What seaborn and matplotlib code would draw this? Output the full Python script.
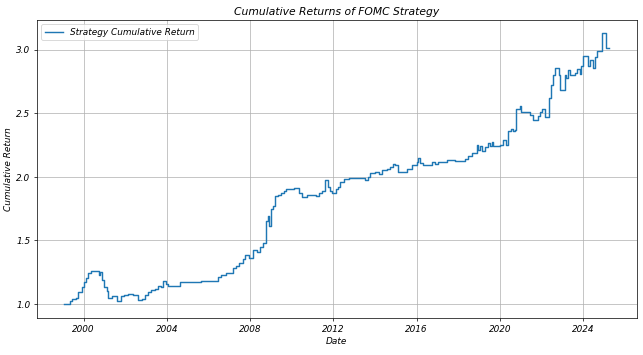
import numpy as np
import pandas as pd
import matplotlib
matplotlib.use("Agg")
import matplotlib.pyplot as plt
import seaborn as sns

# fechas (años decimales) y retorno acumulado
years = [
    1999.05, 1999.22, 1999.32, 1999.43, 1999.63, 1999.75, 1999.90, 2000.02,
    2000.11, 2000.22, 2000.33, 2000.49, 2000.72, 2000.80, 2000.89, 2000.99,
    2001.10, 2001.15, 2001.34, 2001.58, 2001.77, 2001.93, 2002.14, 2002.38,
    2002.62, 2002.82, 2002.93, 2003.10, 2003.25, 2003.41, 2003.57, 2003.70,
    2003.81, 2003.94, 2004.05, 2004.29, 2004.61, 2005.01, 2005.41, 2005.65,
    2006.44, 2006.60, 2006.84, 2007.16, 2007.32, 2007.48, 2007.64, 2007.77,
    2007.93, 2008.15, 2008.31, 2008.47, 2008.60, 2008.76, 2008.84, 2008.92,
    2009.00, 2009.11, 2009.20, 2009.32, 2009.47, 2009.63, 2009.71, 2010.11,
    2010.35, 2010.51, 2010.75, 2011.15, 2011.31, 2011.47, 2011.59, 2011.74,
    2011.83, 2011.95, 2012.11, 2012.22, 2012.31, 2012.50, 2012.74, 2012.98,
    2013.30, 2013.54, 2013.65, 2013.78, 2014.02, 2014.18, 2014.34, 2014.58,
    2014.74, 2014.87, 2014.98, 2015.09, 2015.30, 2015.54, 2015.78, 2016.01,
    2016.09, 2016.17, 2016.33, 2016.57, 2016.73, 2016.89, 2017.05, 2017.45,
    2017.85, 2018.33, 2018.48, 2018.64, 2018.88, 2018.96, 2019.04, 2019.12,
    2019.28, 2019.44, 2019.52, 2019.60, 2019.68, 2020.00, 2020.16, 2020.32,
    2020.40, 2020.53, 2020.64, 2020.72, 2020.80, 2020.96, 2021.04, 2021.44,
    2021.59, 2021.83, 2021.91, 2022.04, 2022.15, 2022.36, 2022.47, 2022.55,
    2022.63, 2022.84, 2022.90, 2023.11, 2023.19, 2023.27, 2023.35, 2023.59,
    2023.70, 2023.83, 2023.91, 2024.02, 2024.22, 2024.34, 2024.46, 2024.58,
    2024.68, 2024.92, 2025.09, 2025.26,
]
cum_return = [
    1.00, 0.995, 1.02, 1.04, 1.05, 1.09, 1.13, 1.17,
    1.20, 1.24, 1.26, 1.26, 1.23, 1.25, 1.19, 1.13,
    1.10, 1.05, 1.06, 1.02, 1.06, 1.07, 1.08, 1.07,
    1.03, 1.04, 1.07, 1.09, 1.11, 1.12, 1.14, 1.13,
    1.18, 1.16, 1.14, 1.14, 1.17, 1.175, 1.17, 1.18,
    1.215, 1.23, 1.24, 1.28, 1.30, 1.325, 1.35, 1.385,
    1.36, 1.42, 1.41, 1.445, 1.48, 1.65, 1.69, 1.61,
    1.75, 1.77, 1.845, 1.86, 1.875, 1.89, 1.90, 1.91,
    1.875, 1.84, 1.86, 1.845, 1.875, 1.89, 1.975, 1.92,
    1.885, 1.87, 1.90, 1.92, 1.96, 1.98, 1.99, 1.99,
    1.99, 1.975, 2.00, 2.03, 2.04, 2.02, 2.05, 2.06,
    2.075, 2.10, 2.09, 2.035, 2.04, 2.065, 2.095, 2.12,
    2.15, 2.105, 2.095, 2.09, 2.12, 2.10, 2.115, 2.13,
    2.125, 2.14, 2.16, 2.19, 2.25, 2.21, 2.24, 2.20,
    2.235, 2.265, 2.24, 2.27, 2.245, 2.25, 2.29, 2.25,
    2.36, 2.38, 2.36, 2.37, 2.53, 2.555, 2.51, 2.49,
    2.45, 2.48, 2.51, 2.53, 2.47, 2.62, 2.725, 2.80,
    2.86, 2.80, 2.685, 2.80, 2.78, 2.84, 2.80, 2.82,
    2.85, 2.81, 2.875, 2.95, 2.87, 2.92, 2.86, 2.94,
    2.99, 3.13, 3.01, 3.01,
]

def to_date(y):
    base = pd.Timestamp(int(y), 1, 1)
    return base + pd.Timedelta(days=(y - int(y)) * 365.25)

df = pd.DataFrame({
    "Date": [to_date(y) for y in years],
    "Cumulative Return": cum_return,
})

plt.rcParams["font.style"] = "italic"

fig, ax = plt.subplots(figsize=(10, 5.525), dpi=64.3)
sns.lineplot(
    data=df, x="Date", y="Cumulative Return", ax=ax,
    drawstyle="steps-post", color="#1f77b4", linewidth=1.6,
    label="Strategy Cumulative Return",
)
ax.set_title("Cumulative Returns of FOMC Strategy", fontsize=12)
ax.set_xlabel("Date")
ax.set_ylabel("Cumulative Return")
ax.set_yticks([1.0, 1.5, 2.0, 2.5, 3.0])
ax.grid(True)
ax.legend(loc="upper left")

plt.subplots_adjust(left=0.057, right=0.99, top=0.944, bottom=0.104)
fig.savefig("out.png", dpi=64.3)
